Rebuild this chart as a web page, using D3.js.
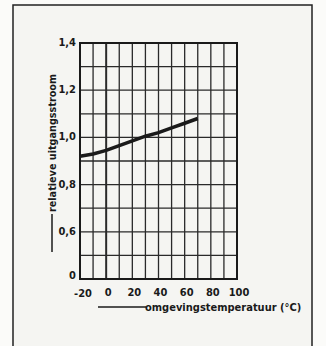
<!DOCTYPE html>
<html>
<head>
<meta charset="utf-8">
<script src="https://cdn.jsdelivr.net/npm/d3@7"></script>
<style>
  body { margin: 0; background: #fbfbf9; }
  svg { display: block; }
  text { font-family: "DejaVu Sans Condensed", "DejaVu Sans", sans-serif; fill: #1a1a1a; }
</style>
</head>
<body>
<svg width="326" height="346"></svg>
<script>
// data
var temps = [-20, -10, 0, 10, 20, 30, 40, 50, 60, 70];
var current = [0.92, 0.93, 0.945, 0.965, 0.985, 1.005, 1.02, 1.04, 1.06, 1.08];
var xTicks = [-20, 0, 20, 40, 60, 80, 100];
var yTicks = [1.4, 1.2, 1.0, 0.8, 0.6, 0.4];
var yTickLabels = ["1,4", "1,2", "1,0", "0,8", "0,6", "0"];

var svg = d3.select("svg");

// paper frame
svg.append("rect").attr("x", 13).attr("y", 5).attr("width", 299).attr("height", 345)
  .attr("fill", "#f5f5f2").attr("stroke", "#222").attr("stroke-width", 1.5);

var x = d3.scaleLinear().domain([-20, 100]).range([80, 237]);
var y = d3.scaleLinear().domain([0.4, 1.4]).range([279, 43]);

//grid
var g = svg.append("g");
g.selectAll("line.v").data(d3.range(-20, 101, 10)).enter().append("line")
  .attr("x1", function(d) { return x(d); }).attr("x2", function(d) { return x(d); })
  .attr("y1", y(1.4)).attr("y2", y(0.4))
  .attr("stroke", "#2a2a2a")
  .attr("stroke-width", function(d) { return d == 0 ? 2 : 1.3; });
g.selectAll("line.h").data(d3.range(0, 11).map(function(i) { return 0.4 + i * 0.1; })).enter().append("line")
  .attr("x1", x(-20)).attr("x2", x(100))
  .attr("y1", function(d) { return y(d); }).attr("y2", function(d) { return y(d); })
  .attr("stroke", "#2a2a2a").attr("stroke-width", 1.3);
g.append("rect").attr("x", x(-20)).attr("y", y(1.4))
  .attr("width", x(100) - x(-20)).attr("height", y(0.4) - y(1.4))
  .attr("fill", "none").attr("stroke", "#1a1a1a").attr("stroke-width", 2);

// curve
svg.append("path").datum(temps)
  .attr("d", d3.line().x(function(d) { return x(d); }).y(function(d, i) { return y(current[i]); }))
  .attr("fill", "none").attr("stroke", "#1a1a1a").attr("stroke-width", 3.5);

// tick labels
svg.selectAll("text.xt").data(xTicks).enter().append("text")
  .attr("x", function(d) { return x(d) + (d == -20 ? 3 : 2); })
  .attr("y", function(d) { return d == -20 ? 297 : 296; }).attr("text-anchor", "middle")
  .attr("font-size", 11).attr("font-weight", "bold")
  .text(function(d) { return d; });
svg.selectAll("text.yt").data(yTicks).enter().append("text")
  .attr("x", 76).attr("y", function(d) { return y(d) + (d < 0.5 ? 0 : 3); })
  .attr("text-anchor", "end")
  .attr("font-size", 11).attr("font-weight", "bold")
  .text(function(d, i) { return yTickLabels[i]; });

// axis titles with arrows
svg.append("line").attr("x1", 98).attr("x2", 146).attr("y1", 307).attr("y2", 307)
  .attr("stroke", "#1a1a1a").attr("stroke-width", 1.5);
svg.append("text").attr("x", 145).attr("y", 311)
  .attr("font-size", 11).attr("font-weight", "bold")
  .text("omgevingstemperatuur (°C)");

svg.append("line").attr("x1", 52).attr("x2", 52).attr("y1", 252).attr("y2", 214)
  .attr("stroke", "#1a1a1a").attr("stroke-width", 1.5);
svg.append("text").attr("transform", "translate(56,212) rotate(-90)")
  .attr("font-size", 10.5).attr("font-weight", "bold")
  .attr("textLength", 138).attr("lengthAdjust", "spacingAndGlyphs")
  .text("relatieve uitgangsstroom");
</script>
</body>
</html>
